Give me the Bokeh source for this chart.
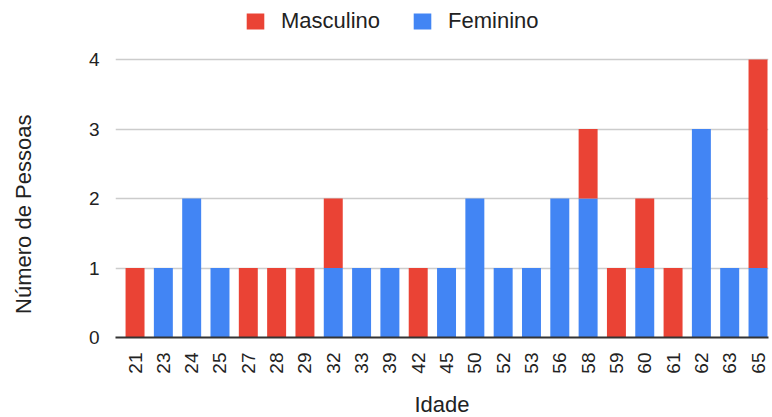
import math
from bokeh.plotting import figure
from bokeh.models import ColumnDataSource, Range1d, FixedTicker, Legend, LegendItem
from bokeh.embed import file_html
from bokeh.resources import INLINE

idades = ["21", "23", "24", "25", "27", "28", "29", "32", "33", "39", "42", "45",
          "50", "52", "53", "56", "58", "59", "60", "61", "62", "63", "65"]
feminino = [0, 1, 2, 1, 0, 0, 0, 1, 1, 1, 0, 1, 2, 1, 1, 2, 2, 0, 1, 0, 3, 1, 1]
masculino = [1, 0, 0, 0, 1, 1, 1, 1, 0, 0, 1, 0, 0, 0, 0, 0, 1, 1, 1, 1, 0, 0, 3]
y_ticks = [0, 1, 2, 3, 4]

RED = "#EA4335"
BLUE = "#4285F4"
FONT = "Liberation Sans"

idx = list(range(len(idades)))
source = ColumnDataSource(dict(x=idx, Feminino=feminino, Masculino=masculino))

p = figure(output_backend="svg", toolbar_location=None,
           x_range=Range1d(-0.69, 22.37), y_range=Range1d(0, 4.777),
           frame_width=653, frame_height=332,
           min_border_left=115, min_border_top=5, min_border_right=4, min_border_bottom=80)
p.outline_line_color = None

r = p.vbar_stack(["Feminino", "Masculino"], x="x", width=0.67, source=source,
                 color=[BLUE, RED], line_color=None)

p.xaxis.ticker = FixedTicker(ticks=idx)
p.xaxis.major_label_overrides = {i: s for i, s in enumerate(idades)}
p.xaxis.major_label_orientation = math.pi / 2
p.yaxis.ticker = FixedTicker(ticks=y_ticks)

for ax in (p.xaxis[0], p.yaxis[0]):
    ax.major_tick_line_color = None
    ax.minor_tick_line_color = None
    ax.major_label_text_font = FONT
    ax.major_label_text_font_size = "19px"
    ax.major_label_text_color = "#222222"
    ax.axis_label_text_font = FONT
    ax.axis_label_text_font_size = "22px"
    ax.axis_label_text_font_style = "normal"
    ax.axis_label_text_color = "#222222"

p.xaxis.axis_line_color = "#333333"
p.xaxis.axis_line_width = 2
p.yaxis.axis_line_color = None
p.xaxis.major_label_standoff = 9
p.yaxis.major_label_standoff = 10
p.xaxis.axis_label = "Idade"
# trailing no-break spaces keep the title centred on the 0-4 data span
p.yaxis.axis_label = "Número de Pessoas" + "\u00a0" * 14
p.xaxis.axis_label_standoff = 15
p.yaxis.axis_label_standoff = 50

p.xgrid.grid_line_color = None
p.ygrid.grid_line_color = "#CCCCCC"
p.ygrid.grid_line_width = 1.5

legend = Legend(items=[LegendItem(label="Masculino", renderers=[r[1]]),
                       LegendItem(label="Feminino", renderers=[r[0]])],
                orientation="horizontal", location=(129, 303),
                label_text_font=FONT, label_text_font_size="22px",
                label_text_color="#222222",
                glyph_width=22, glyph_height=20, label_standoff=15, spacing=31,
                border_line_color=None, background_fill_alpha=0, padding=0, margin=0)
p.add_layout(legend)

open("out.html", "w").write(file_html(p, INLINE))
